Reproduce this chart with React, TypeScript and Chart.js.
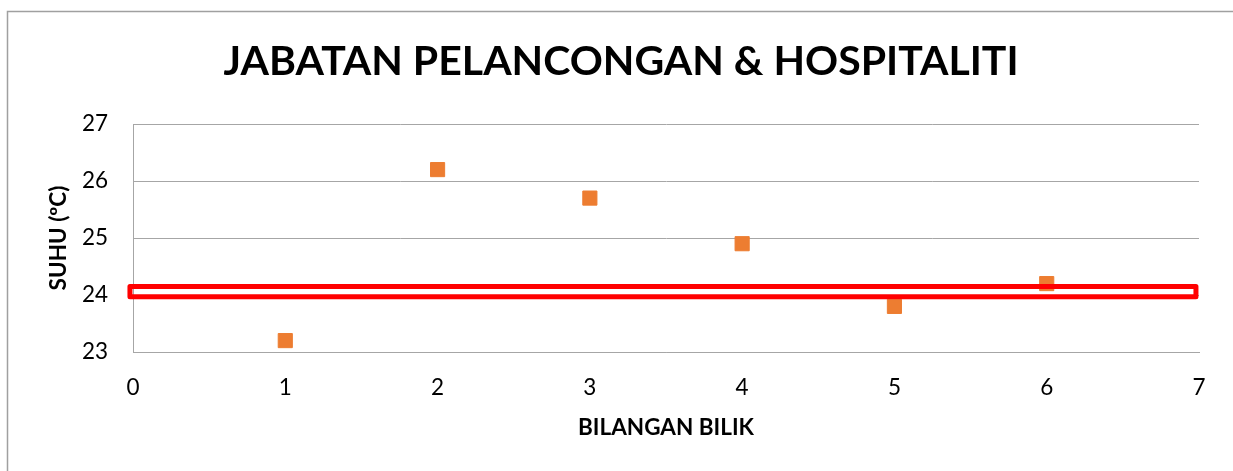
import { useEffect, useRef } from "react";
import { Chart, registerables } from "chart.js";

Chart.register(...registerables);

const chartTitle = "JABATAN PELANCONGAN & HOSPITALITI";
const xAxisTitle = "BILANGAN BILIK";
const yAxisTitle = "SUHU (ºC)";
const roomNumbers = [1, 2, 3, 4, 5, 6];
const temperatures = [23.2, 26.2, 25.7, 24.9, 23.8, 24.2];
const xRange = [0, 7];
const yRange = [23, 27];
const highlightX = [-0.02, 6.98];
const highlightY = [23.97, 24.15];

const FONT = "Lato, 'Open Sans', sans-serif";
const GRID = "#a6a6a6";

const overlayPlugin = {
  id: "overlay",
  beforeDraw(chart: any) {
    const ctx = chart.ctx;
    ctx.save();
    ctx.fillStyle = "#ffffff";
    ctx.fillRect(0, 0, chart.width, chart.height);
    ctx.strokeStyle = "#a0a0a0";
    ctx.lineWidth = 1.5;
    ctx.strokeRect(7.5, 11.5, chart.width + 20, chart.height + 20);
    ctx.restore();
  },
  afterDatasetsDraw(chart: any) {
    const { x, y } = chart.scales;
    const ctx = chart.ctx;
    const x0 = x.getPixelForValue(highlightX[0]);
    const x1 = x.getPixelForValue(highlightX[1]);
    const y0 = y.getPixelForValue(highlightY[1]);
    const y1 = y.getPixelForValue(highlightY[0]);
    ctx.save();
    ctx.strokeStyle = "#ff0000";
    ctx.lineWidth = 5;
    ctx.lineJoin = "round";
    ctx.strokeRect(x0, y0, x1 - x0, y1 - y0);
    ctx.restore();
  },
};

export default function App() {
  const ref = useRef<HTMLCanvasElement | null>(null);

  useEffect(() => {
    if (!ref.current) return;
    const chart = new Chart(ref.current, {
      type: "scatter",
      data: {
        datasets: [
          {
            label: "Suhu",
            data: roomNumbers.map((r, i) => ({ x: r, y: temperatures[i] })),
            pointStyle: "rect",
            pointRadius: 10,
            pointHoverRadius: 10,
            backgroundColor: "#ED7D31",
            borderColor: "#ED7D31",
            borderWidth: 1,
          },
        ],
      },
      options: {
        animation: false,
        responsive: false,
        maintainAspectRatio: false,
        layout: { padding: { top: 0, right: 34, left: 43, bottom: 0 } },
        plugins: {
          legend: { display: false },
          tooltip: { enabled: false },
          title: {
            display: true,
            text: chartTitle,
            color: "#000000",
            font: { family: FONT, size: 41, weight: "bold" },
            padding: { top: 37, bottom: 37.8 },
          },
        },
        scales: {
          x: {
            type: "linear",
            min: xRange[0],
            max: xRange[1],
            afterFit: (s: any) => {
              s.height = 119;
            },
            ticks: {
              stepSize: 1,
              color: "#000000",
              font: { family: FONT, size: 22.5 },
              padding: 22,
              maxRotation: 0,
            },
            grid: { display: false, drawTicks: false },
            border: { display: true, color: GRID, width: 1 },
            title: {
              display: true,
              text: xAxisTitle,
              color: "#000000",
              font: { family: FONT, size: 22.5, weight: "bold" },
              padding: { top: 0, bottom: 30 },
            },
          },
          y: {
            type: "linear",
            min: yRange[0],
            max: yRange[1],
            afterFit: (s: any) => {
              s.width = 90;
            },
            ticks: {
              stepSize: 1,
              color: "#000000",
              font: { family: FONT, size: 22.5 },
              padding: 25,
            },
            grid: { color: GRID, lineWidth: 1, drawTicks: false },
            border: { display: true, color: GRID, width: 1 },
            title: {
              display: true,
              text: yAxisTitle,
              color: "#000000",
              font: { family: FONT, size: 22.5, weight: "bold" },
              padding: { top: 2, bottom: 0 },
            },
          },
        },
      },
      plugins: [overlayPlugin],
    });
    return () => chart.destroy();
  }, []);

  return (
    <canvas
      ref={ref}
      width={1233}
      height={471}
      style={{ position: "fixed", left: 0, top: 0, width: 1233, height: 471, display: "block" }}
    />
  );
}
